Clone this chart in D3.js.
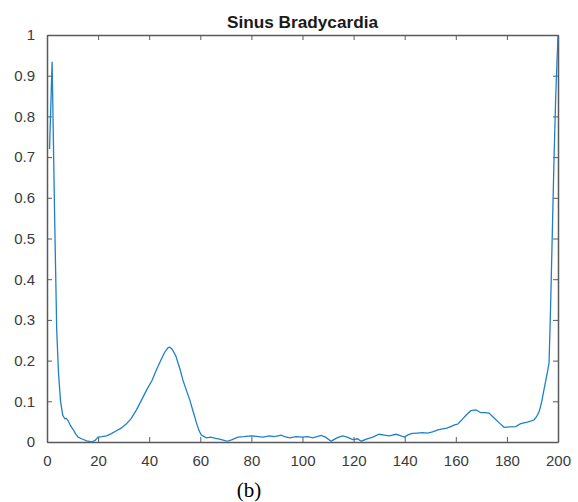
<!DOCTYPE html>
<html>
<head>
<meta charset="utf-8">
<script src="https://cdn.jsdelivr.net/npm/d3@7"></script>
<style>
  body { margin: 0; background: #fff; }
  .axis text { font-family: Arial, "Liberation Sans", sans-serif; font-size: 15px; fill: #3a3a3a; }
  .axis path, .axis line { stroke: #5a5a5a; }
</style>
</head>
<body>
<div id="chart"></div>
<script>
// ECG beat, normalised amplitude, sample index 0..200
const sampleX = [1, 2, 3, 3.8, 4.5, 5.3, 6.2, 7, 7.6, 8.3, 9.2, 10.3, 11.2, 12.2, 13.5, 15.5, 17.5, 18.8,
  20, 21.5, 23.3, 25, 27, 29, 31, 33, 35, 37, 39, 41, 42.8, 44.5, 46, 47.4, 48, 49, 50.5, 52, 53.2,
  54.5, 55.9, 57.2, 58.5, 59.5, 60.4, 62.4, 64, 66, 67.6, 70, 70.8, 72.5, 74.7, 77, 80, 82, 84.5, 87,
  89, 91.7, 93, 95, 97.5, 100, 102, 104, 107.3, 109, 111.2, 113.5, 115.7, 117.5, 119.7, 121.5, 123,
  125, 127.5, 130, 132, 134, 136.6, 138, 139.8, 141.5, 143, 145, 147, 149, 150.9, 153, 154.8, 156.5,
  158, 159.5, 160.7, 162, 163.3, 164.7, 165.9, 167.9, 169.8, 171.5, 173, 175, 177, 178.9, 181, 183.5,
  185.4, 188, 190.6, 191.6, 192.6, 193.6, 194.5, 195.5, 196.5, 197.1, 197.8, 198.4, 199.1, 200];
const sampleY = [0.72, 0.934, 0.55, 0.275, 0.17, 0.10, 0.065, 0.057, 0.058, 0.052, 0.04, 0.03, 0.02, 0.012, 0.008, 0.003, 0.0, 0.004,
  0.012, 0.013, 0.015, 0.02, 0.027, 0.034, 0.044, 0.058, 0.079, 0.103, 0.128, 0.15, 0.177, 0.2, 0.22, 0.232, 0.233, 0.228, 0.21, 0.18, 0.152,
  0.128, 0.103, 0.075, 0.047, 0.028, 0.017, 0.01, 0.012, 0.009, 0.007, 0.003, 0.002, 0.006, 0.012, 0.013, 0.015, 0.014, 0.012, 0.015,
  0.013, 0.017, 0.013, 0.01, 0.013, 0.012, 0.013, 0.01, 0.016, 0.012, 0.002, 0.01, 0.015, 0.012, 0.006, 0.008, 0.002,
  0.007, 0.012, 0.019, 0.017, 0.015, 0.019, 0.016, 0.012, 0.018, 0.021, 0.022, 0.023, 0.022, 0.025, 0.03, 0.032, 0.034,
  0.038, 0.042, 0.044, 0.052, 0.061, 0.07, 0.077, 0.079, 0.072, 0.072, 0.071, 0.059, 0.047, 0.036, 0.037, 0.038,
  0.045, 0.049, 0.054, 0.062, 0.074, 0.098, 0.128, 0.16, 0.194, 0.332, 0.52, 0.685, 0.848, 1.0];

const xTicks = [0, 20, 40, 60, 80, 100, 120, 140, 160, 180, 200];
const yTicks = [0, 0.1, 0.2, 0.3, 0.4, 0.5, 0.6, 0.7, 0.8, 0.9, 1];
const chartTitle = "Sinus Bradycardia";
const caption = "(b)";

const width = 578, height = 502;
const margin = {top: 35, right: 20, bottom: 60, left: 47};
const innerW = width - margin.left - margin.right;
const innerH = height - margin.top - margin.bottom;

const svg = d3.select("#chart").append("svg")
    .attr("width", width)
    .attr("height", height);

const g = svg.append("g")
    .attr("transform", `translate(${margin.left},${margin.top})`);

const x = d3.scaleLinear().domain([0, 200]).range([0, innerW]);
const y = d3.scaleLinear().domain([0, 1]).range([innerH, 0]);

const fmt = d => String(+d.toFixed(1));

// bottom + left with labels, top + right ticks only (box on, ticks inward)
g.append("g").attr("class", "axis")
    .attr("transform", `translate(0,${innerH})`)
    .call(d3.axisBottom(x).tickValues(xTicks).tickFormat(fmt).tickSizeInner(-5).tickSizeOuter(0).tickPadding(13));

g.append("g").attr("class", "axis")
    .call(d3.axisLeft(y).tickValues(yTicks).tickFormat(fmt).tickSizeInner(-5).tickSizeOuter(0).tickPadding(12));

g.append("g").attr("class", "axis")
    .call(d3.axisTop(x).tickValues(xTicks).tickFormat("").tickSizeInner(-5).tickSizeOuter(0));

g.append("g").attr("class", "axis")
    .attr("transform", `translate(${innerW},0)`)
    .call(d3.axisRight(y).tickValues(yTicks).tickFormat("").tickSizeInner(-5).tickSizeOuter(0));

g.selectAll(".axis path").attr("stroke-width", 1.5);

const pts = sampleX.map((d, i) => [d, sampleY[i]]);

const line = d3.line()
    .x(d => x(d[0]))
    .y(d => y(d[1]));

g.append("path")
    .datum(pts)
    .attr("fill", "none")
    .attr("stroke", "#1f80c8")
    .attr("stroke-width", 1.3)
    .attr("d", line);

// title
svg.append("text")
    .attr("x", margin.left + innerW / 2)
    .attr("y", 28)
    .attr("text-anchor", "middle")
    .attr("font-family", "Arial, 'Liberation Sans', sans-serif")
    .attr("font-weight", "bold")
    .attr("font-size", 17)
    .attr("fill", "#1a1a1a")
    .attr("textLength", 151)
    .attr("lengthAdjust", "spacingAndGlyphs")
    .text(chartTitle);

// caption under the figure
svg.append("text")
    .attr("x", 249)
    .attr("y", 497)
    .attr("text-anchor", "middle")
    .attr("font-family", "'Liberation Serif', 'Times New Roman', serif")
    .attr("font-size", 21)
    .attr("fill", "#000")
    .text(caption);
</script>
</body>
</html>
